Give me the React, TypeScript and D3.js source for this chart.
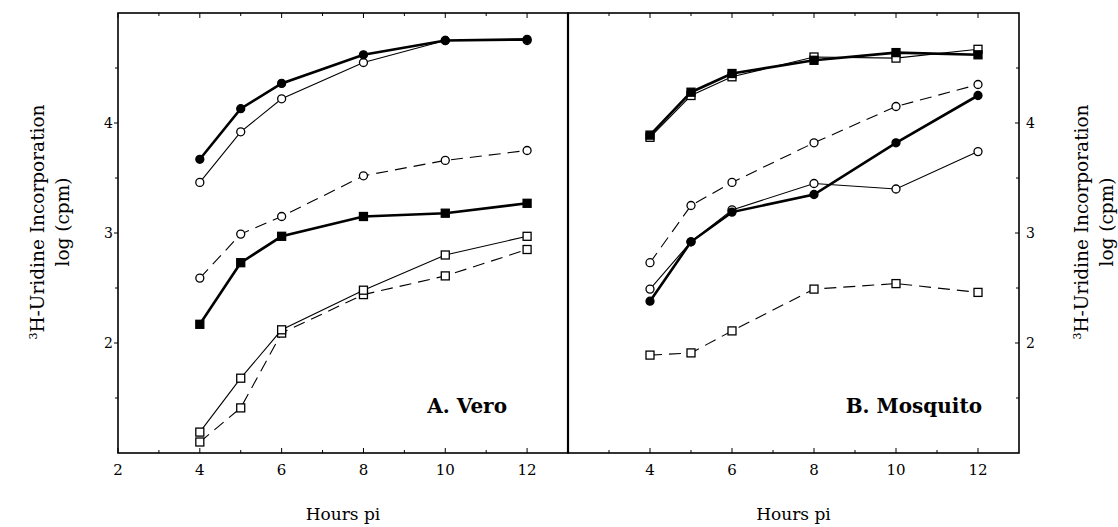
import React from 'react';
import * as d3 from 'd3';

// hours post infection
const hours = [4, 5, 6, 8, 10, 12];

// A. Vero
const veroFilledCircle = [3.67, 4.13, 4.36, 4.62, 4.75, 4.76];
const veroOpenCircle = [3.46, 3.92, 4.22, 4.55, 4.75, 4.75];
const veroOpenCircleDashed = [2.59, 2.99, 3.15, 3.52, 3.66, 3.75];
const veroFilledSquare = [2.17, 2.73, 2.97, 3.15, 3.18, 3.27];
const veroOpenSquare = [1.19, 1.68, 2.12, 2.48, 2.80, 2.97];
const veroOpenSquareDashed = [1.10, 1.41, 2.09, 2.44, 2.61, 2.85];

// B. Mosquito
const mosqFilledSquare = [3.89, 4.28, 4.45, 4.57, 4.64, 4.62];
const mosqOpenSquare = [3.87, 4.25, 4.42, 4.60, 4.59, 4.67];
const mosqOpenCircleDashed = [2.73, 3.25, 3.46, 3.82, 4.15, 4.35];
const mosqFilledCircle = [2.38, 2.92, 3.19, 3.35, 3.82, 4.25];
const mosqOpenCircle = [2.49, 2.92, 3.21, 3.45, 3.40, 3.74];
const mosqOpenSquareDashed = [1.89, 1.91, 2.11, 2.49, 2.54, 2.46];

const xTicksLeft = [2, 4, 6, 8, 10, 12];
const xTicksRight = [4, 6, 8, 10, 12];
const xMinor = [3, 5, 7, 9, 11];
const yTicks = [2, 3, 4];
const yMinor = [1.5, 2.5, 3.5, 4.5];

type Series = { values: number[]; marker: 'circle' | 'square'; filled: boolean; thick: boolean; dashed: boolean };

const veroSeries: Series[] = [
  { values: veroOpenSquareDashed, marker: 'square', filled: false, thick: false, dashed: true },
  { values: veroOpenSquare, marker: 'square', filled: false, thick: false, dashed: false },
  { values: veroFilledSquare, marker: 'square', filled: true, thick: true, dashed: false },
  { values: veroOpenCircleDashed, marker: 'circle', filled: false, thick: false, dashed: true },
  { values: veroOpenCircle, marker: 'circle', filled: false, thick: false, dashed: false },
  { values: veroFilledCircle, marker: 'circle', filled: true, thick: true, dashed: false },
];

const mosqSeries: Series[] = [
  { values: mosqOpenSquareDashed, marker: 'square', filled: false, thick: false, dashed: true },
  { values: mosqOpenCircle, marker: 'circle', filled: false, thick: false, dashed: false },
  { values: mosqFilledCircle, marker: 'circle', filled: true, thick: true, dashed: false },
  { values: mosqOpenCircleDashed, marker: 'circle', filled: false, thick: false, dashed: true },
  { values: mosqOpenSquare, marker: 'square', filled: false, thick: false, dashed: false },
  { values: mosqFilledSquare, marker: 'square', filled: true, thick: true, dashed: false },
];

const top = 13;
const bottom = 453;
const font = '"DejaVu Serif", "Liberation Serif", serif';

const y = d3.scaleLinear().domain([1, 5]).range([bottom, top]);

function Panel({ x0, x1, series, label, labelX, xTicks, side }:
  { x0: number; x1: number; series: Series[]; label: string; labelX: number; xTicks: number[]; side: 'left' | 'right' }) {
  const x = d3.scaleLinear().domain([2, 13]).range([x0, x1]);
  const line = d3.line<number>().x((_, i) => x(hours[i])).y(d => y(d));
  const tl = 5;
  const axisX = side === 'left' ? x0 : x1;
  return (
    <g>
      {/* series */}
      {series.map((s, si) => (
        <g key={si}>
          <path d={line(s.values) || ''} fill="none" stroke="#000"
            strokeWidth={s.thick ? 2.6 : 1.1}
            strokeDasharray={s.dashed ? '12,7' : undefined} />
          {s.values.map((v, i) => s.marker === 'circle' ? (
            <circle key={i} cx={x(hours[i])} cy={y(v)} r={4}
              fill={s.filled ? '#000' : '#fff'} stroke="#000" strokeWidth={1.3} />
          ) : (
            <rect key={i} x={x(hours[i]) - 4} y={y(v) - 4} width={8} height={8}
              fill={s.filled ? '#000' : '#fff'} stroke="#000" strokeWidth={1.3} />
          ))}
        </g>
      ))}
      {/* x ticks top & bottom */}
      {xTicks.map(t => (
        <g key={'xt' + t}>
          <line x1={x(t)} x2={x(t)} y1={bottom} y2={bottom - tl} stroke="#000" />
          <line x1={x(t)} x2={x(t)} y1={top} y2={top + tl} stroke="#000" />
          <text x={x(t)} y={475} textAnchor="middle" fontFamily={font} fontSize={15}>{t}</text>
        </g>
      ))}
      {xMinor.map(t => (
        <g key={'xm' + t}>
          <line x1={x(t)} x2={x(t)} y1={bottom} y2={bottom - 3} stroke="#000" />
          <line x1={x(t)} x2={x(t)} y1={top} y2={top + 3} stroke="#000" />
        </g>
      ))}
      {/* y ticks */}
      {yTicks.map(t => (
        <g key={'yt' + t}>
          {side === 'left' ? (
            <>
              <line x1={axisX - 4} x2={axisX} y1={y(t)} y2={y(t)} stroke="#000" />
              <text x={axisX - 5} y={y(t) + 5} textAnchor="end" fontFamily={font} fontSize={14}>{t}</text>
            </>
          ) : (
            <>
              <line x1={axisX - 4} x2={axisX} y1={y(t)} y2={y(t)} stroke="#000" />
              <text x={axisX + 7} y={y(t) + 5} textAnchor="start" fontFamily={font} fontSize={14}>{t}</text>
            </>
          )}
        </g>
      ))}
      {yMinor.map(t => (
        <line key={'ym' + t} x1={axisX - 3} x2={axisX} y1={y(t)} y2={y(t)} stroke="#000" />
      ))}
      <text x={labelX} y={413} textAnchor="end" fontFamily={font} fontSize={20} fontWeight="bold">{label}</text>
      <text x={(x0 + x1) / 2} y={520} textAnchor="middle" fontFamily={font} fontSize={17}>Hours pi</text>
    </g>
  );
}

function YLabel({ cx }: { cx: number }) {
  const cy = 222;
  return (
    <g transform={`translate(${cx},${cy}) rotate(-90)`} fontFamily={font} fontSize={18.5}>
      <text x={0} y={0} textAnchor="middle">
        <tspan fontSize={11} dy={-7}>3</tspan>
        <tspan dy={7}>H-Uridine Incorporation</tspan>
      </text>
      <text x={0} y={25} textAnchor="middle">log (cpm)</text>
    </g>
  );
}

export default function App() {
  return (
    <svg width={1118} height={527} style={{ position: 'absolute', left: 0, top: 0, background: '#fff' }}>
      <rect x={0} y={0} width={1118} height={527} fill="#fff" />
      <Panel x0={118} x1={568} series={veroSeries} label="A. Vero" labelX={507}
        xTicks={xTicksLeft} side="left" />
      <Panel x0={568} x1={1019} series={mosqSeries} label="B. Mosquito" labelX={982}
        xTicks={xTicksRight} side="right" />
      {/* frames */}
      <rect x={118} y={top} width={450} height={bottom - top} fill="none" stroke="#000" strokeWidth={1.6} />
      <rect x={568} y={top} width={451} height={bottom - top} fill="none" stroke="#000" strokeWidth={1.6} />
      <line x1={568} x2={568} y1={top} y2={bottom} stroke="#000" strokeWidth={2.2} />
      <YLabel cx={44} />
      <YLabel cx={1088} />
    </svg>
  );
}
